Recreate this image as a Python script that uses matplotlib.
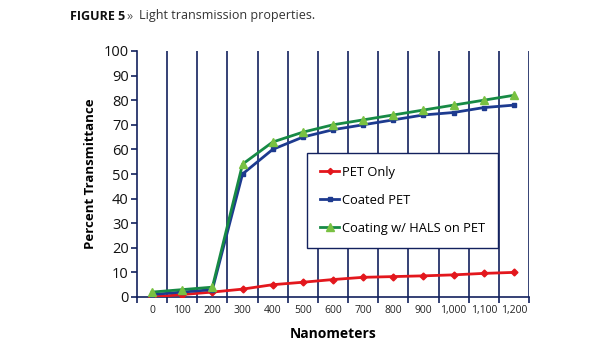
import matplotlib.pyplot as plt
import numpy as np

plt.rcParams['font.family'] = ['Open Sans', 'DejaVu Sans']

# datos
nanometers = ['0', '100', '200', '300', '400', '500', '600', '700', '800', '900',
              '1,000', '1,100', '1,200']
pet_only = [0, 1, 2, 3.2, 5, 6, 7.1, 8, 8.3, 8.6, 9, 9.6, 10]
coated_pet = [1, 2, 3, 50, 60, 65, 68, 70, 72, 74, 75, 77, 78]
coating_hals = [2, 3, 4, 54, 63, 67, 70, 72, 74, 76, 78, 80, 82]

navy = '#13215e'

fig = plt.figure(figsize=(6.15, 3.5), dpi=100)
ax = fig.add_axes([137/615, 1-297/350, (529-137)/615, (297-51)/350])

x = np.arange(len(nanometers))

# lineas verticales en los limites de categoria
for b in np.arange(0.5, len(nanometers) + 0.5, 1):
    ax.axvline(b, color=navy, lw=1.2, zorder=1)

ax.plot(x, pet_only, color='#e3171d', lw=2, marker='D', ms=3.5,
        mfc='#e3171d', mec='#e3171d', label='PET Only', zorder=3)
ax.plot(x, coated_pet, color='#1d3a8f', lw=2, marker='s', ms=3,
        mfc='#1d3a8f', mec='#1d3a8f', label='Coated PET', zorder=3)
ax.plot(x, coating_hals, color='#178a45', lw=2, marker='^', ms=6,
        mfc='#79c142', mec='#79c142', label='Coating w/ HALS on PET', zorder=4)

ax.set_xlim(-0.5, len(nanometers) - 0.5)
ax.set_ylim(0, 100)
ax.set_yticks(range(0, 101, 10))
ax.set_xticks(x)
ax.set_xticklabels(nanometers, fontsize=7.5, color='#222222')
ax.set_xticks(np.arange(-0.5, len(nanometers), 1), minor=True)
ax.tick_params(axis='x', which='major', length=0, pad=6)
ax.tick_params(axis='x', which='minor', length=4, color=navy, width=1.2)
ax.tick_params(axis='y', length=4, color=navy, width=1.2, labelsize=10.5,
               labelcolor='#111111', pad=2)

for s in ['top', 'right']:
    ax.spines[s].set_visible(False)
for s in ['left', 'bottom']:
    ax.spines[s].set_color(navy)
    ax.spines[s].set_linewidth(1.2)

ax.set_ylabel('Percent Transmittance', fontsize=9.5, fontweight='bold', labelpad=5)
ax.set_xlabel('Nanometers', fontsize=10, fontweight='bold', labelpad=8)

leg = ax.legend(loc='upper left', bbox_to_anchor=((307-137)/392, (297-153)/246),
                frameon=True, fancybox=False, fontsize=9.3, labelspacing=1.15,
                handlelength=1.5, handletextpad=0.2, borderpad=1.0,
                borderaxespad=0, markerscale=0.9)
leg.get_frame().set_edgecolor(navy)
leg.get_frame().set_linewidth(1.0)
leg.get_frame().set_alpha(1)

fig.text(70/615, 1-16/350, 'FIGURE 5', fontsize=9, fontweight='bold',
         color='#111111', va='center')
fig.text(127/615, 1-16/350, '»', fontsize=9, color='#555555', va='center')
fig.text(139/615, 1-16/350, 'Light transmission properties.', fontsize=9,
         color='#333333', va='center')

fig.savefig('out.png', dpi=100)
